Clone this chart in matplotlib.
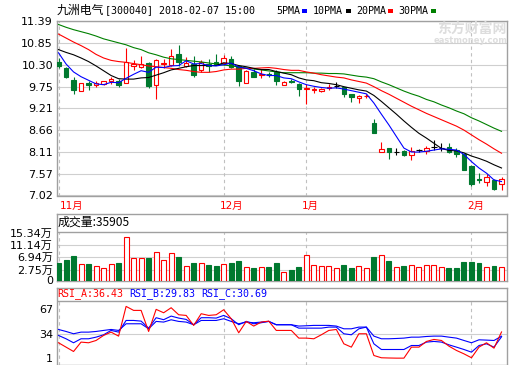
import matplotlib
matplotlib.use('Agg')
import matplotlib.pyplot as plt
from matplotlib.patches import Rectangle
import numpy as np

# ---------------- data ----------------
opens = [10.38, 10.21, 9.92, 9.64, 9.84, 9.78, 9.82, 9.88, 9.90, 9.85,
         10.28, 10.24, 10.34, 9.79, 10.32, 10.30, 10.58, 10.27, 10.32, 10.16,
         10.32, 10.37, 10.34, 10.45, 10.26, 9.84, 10.13, 10.04, 10.08, 10.13,
         9.80, 9.90, 9.82, 9.69, 9.66, 9.63, 9.72, 9.77, 9.73, 9.56,
         9.46, 9.51, 8.83, 8.11, 8.20, 8.11, 8.14, 8.03, 8.15, 8.13,
         8.24, 8.20, 8.24, 8.17, 8.05, 7.75, 7.44, 7.36, 7.40, 7.32]
highs = [10.47, 10.25, 10.00, 9.85, 9.88, 9.90, 9.90, 9.99, 9.95, 10.72,
         10.42, 10.53, 10.36, 10.45, 10.44, 10.70, 10.79, 10.49, 10.51, 10.43,
         10.44, 10.58, 10.55, 10.53, 10.30, 10.16, 10.19, 10.19, 10.13, 10.17,
         9.88, 9.93, 9.84, 9.81, 9.74, 9.72, 9.81, 9.86, 9.74, 9.57,
         9.54, 9.57, 8.93, 8.35, 8.21, 8.20, 8.17, 8.24, 8.19, 8.26,
         8.42, 8.34, 8.34, 8.20, 8.09, 7.78, 7.58, 7.55, 7.44, 7.48]
lows = [10.22, 9.96, 9.57, 9.63, 9.67, 9.74, 9.80, 9.81, 9.75, 9.84,
        10.17, 10.23, 9.72, 9.43, 10.23, 10.26, 10.27, 10.25, 9.99, 10.13,
        10.13, 10.30, 10.30, 10.21, 9.77, 9.83, 9.99, 9.96, 10.00, 9.79,
        9.78, 9.85, 9.52, 9.31, 9.59, 9.61, 9.66, 9.71, 9.48, 9.37,
        9.33, 9.46, 8.60, 8.10, 7.93, 8.03, 8.00, 7.92, 8.12, 8.07,
        8.17, 8.14, 8.09, 7.99, 7.65, 7.27, 7.33, 7.25, 7.15, 7.16]
closes = [10.26, 9.99, 9.67, 9.84, 9.78, 9.84, 9.88, 9.945, 9.78, 10.37,
          10.31, 10.32, 9.77, 10.42, 10.34, 10.52, 10.36, 10.34, 10.05, 10.37,
          10.28, 10.32, 10.47, 10.24, 9.88, 10.15, 10.00, 10.08, 10.04, 9.88,
          9.86, 9.87, 9.69, 9.71, 9.69, 9.70, 9.74, 9.77, 9.56, 9.48,
          9.52, 9.52, 8.60, 8.18, 8.11, 8.11, 8.03, 8.14, 8.15, 8.22,
          8.24, 8.20, 8.11, 8.05, 7.67, 7.30, 7.42, 7.48, 7.19, 7.44]

ma5 = [10.60, 10.32, 10.12, 10.00, 9.91, 9.82, 9.80, 9.86, 9.85, 9.96,
       10.06, 10.15, 10.11, 10.24, 10.23, 10.27, 10.28, 10.40, 10.32, 10.33,
       10.28, 10.27, 10.30, 10.34, 10.24, 10.21, 10.15, 10.07, 10.03, 10.03,
       9.97, 9.95, 9.87, 9.80, 9.76, 9.73, 9.71, 9.72, 9.69, 9.65,
       9.61, 9.57, 9.34, 9.06, 8.79, 8.50, 8.21, 8.11, 8.11, 8.13,
       8.16, 8.19, 8.18, 8.16, 8.05, 7.87, 7.71, 7.58, 7.41, 7.37]
ma10 = [10.68, 10.61, 10.55, 10.47, 10.38, 10.27, 10.15, 10.03, 9.95, 9.94,
        9.94, 9.97, 9.98, 10.04, 10.10, 10.17, 10.21, 10.25, 10.28, 10.28,
        10.28, 10.28, 10.35, 10.33, 10.28, 10.25, 10.21, 10.18, 10.18, 10.13,
        10.09, 10.05, 9.97, 9.92, 9.90, 9.85, 9.83, 9.80, 9.75, 9.71,
        9.67, 9.64, 9.53, 9.38, 9.22, 9.06, 8.89, 8.73, 8.58, 8.46,
        8.33, 8.20, 8.15, 8.14, 8.09, 8.01, 7.95, 7.88, 7.79, 7.71]
ma20 = [11.07, 10.97, 10.87, 10.78, 10.68, 10.56, 10.47, 10.41, 10.38, 10.36,
        10.33, 10.30, 10.27, 10.25, 10.23, 10.21, 10.18, 10.16, 10.13, 10.11,
        10.11, 10.13, 10.17, 10.19, 10.19, 10.21, 10.21, 10.22, 10.23, 10.21,
        10.18, 10.16, 10.16, 10.12, 10.09, 10.05, 10.02, 9.99, 9.97, 9.92,
        9.88, 9.84, 9.75, 9.65, 9.56, 9.46, 9.36, 9.26, 9.17, 9.08,
        9.00, 8.92, 8.84, 8.76, 8.66, 8.54, 8.42, 8.31, 8.19, 8.08]
ma30 = [11.31, 11.24, 11.18, 11.13, 11.08, 11.02, 10.95, 10.90, 10.85, 10.80,
        10.73, 10.68, 10.60, 10.55, 10.49, 10.45, 10.43, 10.41, 10.39, 10.37,
        10.345, 10.32, 10.295, 10.27, 10.245, 10.22, 10.195, 10.17, 10.145, 10.12,
        10.10, 10.10, 10.10, 10.10, 10.09, 10.09, 10.08, 10.08, 10.07, 10.04,
        10.01, 9.99, 9.95, 9.87, 9.80, 9.72, 9.64, 9.57, 9.51, 9.43,
        9.37, 9.29, 9.22, 9.14, 9.07, 8.97, 8.89, 8.80, 8.71, 8.63]

volumes_wan = [4.97, 5.89, 7.25, 4.52, 4.52, 4.08, 3.16, 4.76, 4.86, 13.63,
               6.57, 6.57, 6.57, 8.86, 6.13, 8.52, 6.91, 4.08, 4.86, 4.86,
               4.18, 3.84, 4.76, 4.86, 5.55, 3.50, 3.26, 3.50, 3.50, 4.86,
               2.03, 2.47, 3.50, 7.83, 4.42, 3.84, 3.84, 3.16, 4.18, 3.16,
               3.84, 3.16, 6.91, 7.59, 5.55, 3.50, 3.84, 4.42, 3.50, 4.42,
               4.42, 3.50, 3.16, 3.16, 5.20, 5.20, 4.86, 3.50, 3.84, 3.59]

rsi_a = [21.8, 15.9, 10.0, 22.7, 21.8, 24.9, 31.7, 36.2, 30.8, 71.0,
         65.6, 65.6, 37.1, 67.0, 62.4, 69.2, 59.7, 58.8, 45.3, 61.1,
         58.8, 59.7, 66.5, 54.3, 35.3, 50.7, 44.4, 49.8, 51.1, 38.5,
         38.5, 38.5, 28.1, 28.1, 27.2, 32.6, 38.5, 39.8, 20.4, 15.9,
         34.0, 34.0, 4.6, 1.5, 1.2, 1.0, 1.0, 15.9, 15.9, 23.6,
         26.3, 24.9, 17.2, 11.4, 6.8, 1.5, 15.9, 21.8, 14.5, 36.43]
rsi_b = [31.7, 27.2, 21.8, 27.2, 27.2, 29.4, 32.6, 38.5, 36.2, 52.0,
         52.0, 51.1, 41.6, 55.7, 53.0, 57.9, 55.2, 53.4, 46.2, 55.7,
         55.7, 55.2, 58.8, 54.3, 46.2, 50.7, 47.5, 48.9, 50.7, 46.2,
         46.2, 46.2, 41.6, 41.6, 41.6, 41.6, 43.0, 43.0, 34.0, 32.6,
         40.7, 43.0, 20.4, 12.7, 12.7, 12.7, 12.7, 18.1, 18.1, 22.7,
         23.6, 22.7, 19.0, 15.9, 12.7, 9.1, 18.1, 20.4, 15.9, 29.83]
rsi_c = [39.8, 37.1, 34.0, 36.2, 36.2, 37.1, 38.5, 39.8, 38.5, 47.5,
         47.5, 47.5, 40.7, 50.7, 49.8, 52.9, 50.7, 49.8, 46.2, 52.0,
         52.0, 52.0, 54.3, 50.7, 47.5, 49.8, 48.9, 49.8, 50.7, 46.2,
         46.2, 46.2, 44.4, 44.8, 45.3, 45.3, 45.3, 44.4, 40.7, 40.7,
         43.0, 43.0, 30.8, 27.2, 27.2, 27.6, 28.1, 29.4, 29.4, 30.3,
         30.8, 30.8, 29.4, 28.1, 24.9, 21.8, 25.8, 25.4, 24.9, 30.69]

price_ticks = [7.02, 7.57, 8.11, 8.66, 9.21, 9.75, 10.30, 10.85, 11.39]
price_tick_labels = ['7.02', '7.57', '8.11', '8.66', '9.21', '9.75', '10.30', '10.85', '11.39']
vol_ticks = [2.75, 6.94, 11.14, 15.34]
vol_tick_labels = ['2.75万', '6.94万', '11.14万', '15.34万']
rsi_ticks = [1, 34, 67]
rsi_tick_labels = ['1', '34', '67']
month_index = [0, 22, 33, 55]
month_labels = ['11月', '12月', '1月', '2月']

title_name = '九洲电气'
title_code = '[300040] 2018-02-07 15:00'
ma_names = ['5PMA', '10PMA', '20PMA', '30PMA']
vol_title = '成交量:35905'
rsi_names = ['RSI_A:36.43', 'RSI_B:29.83', 'RSI_C:30.69']

# ---------------- style ----------------
W, H = 520, 365
RED = '#ff0000'
GRN = '#00792f'
MA_COLORS = ['#0000ff', '#000000', '#ff0000', '#008000']
BORDER = '#a0a0a0'
GRID = '#cfcfcf'
SANS = ['DejaVu Sans', 'Noto Sans CJK SC']
MONO = ['DejaVu Sans Mono', 'Noto Sans CJK SC']
CJK = ['Noto Sans CJK SC', 'DejaVu Sans']

fig = plt.figure(figsize=(W / 100, H / 100), dpi=100)
fig.patch.set_facecolor('white')


def rect(x0, y0, x1, y1):
    return [x0 / W, 1 - y1 / H, (x1 - x0) / W, (y1 - y0) / H]


def fx(px):
    return px / W


def fy(py):
    return 1 - py / H


ax_p = fig.add_axes(rect(56.5, 21.3, 507, 195.5))
ax_v = fig.add_axes(rect(56.5, 214, 507, 280.5))
ax_r = fig.add_axes(rect(56.5, 288, 507, 364.5))

n = len(closes)
x = np.arange(n)
XL = (-0.27, 59.73)

for ax in (ax_p, ax_v, ax_r):
    ax.set_xlim(*XL)
    ax.set_xticks([])
    for s in ax.spines.values():
        s.set_color(BORDER)
        s.set_linewidth(1.0)
    ax.tick_params(axis='y', length=0, pad=2.5, labelsize=8, colors='black')

# ---------- price panel ----------
ax_p.set_ylim(7.02, 11.39)
ax_p.set_yticks(price_ticks)
ax_p.set_yticklabels(price_tick_labels, fontfamily=SANS)
for t in price_ticks:
    ax_p.axhline(t, color=GRID, lw=0.8, zorder=0)
for mi in month_index:
    ax_p.axvline(mi, color='#c0c0c0', lw=0.8, ls=(0, (3, 3)), zorder=0)

for i in range(n):
    o, h, l, c = opens[i], highs[i], lows[i], closes[i]
    if c > o:
        col, face = RED, 'white'
    elif c < o:
        col, face = GRN, GRN
    else:
        col, face = 'black', 'black'
    ax_p.vlines(i, l, h, color=col, lw=0.8, zorder=3)
    if c == o:
        ax_p.hlines(o, i - 0.36, i + 0.36, color='black', lw=0.8, zorder=4)
    else:
        ax_p.bar(i, abs(c - o), bottom=min(o, c), width=0.6, facecolor=face,
                 edgecolor=col, lw=0.8, zorder=4)

for ma, mc in zip([ma30, ma20, ma10, ma5], MA_COLORS[::-1]):
    ax_p.plot(x, ma, color=mc, lw=0.8, zorder=5)

# ---------- volume panel ----------
VOL_FLOOR = -0.94
ax_v.set_ylim(VOL_FLOOR, 21.59)
ax_v.set_yticks([VOL_FLOOR] + vol_ticks)
ax_v.set_yticklabels(['0'] + vol_tick_labels, fontfamily=SANS)
for t in vol_ticks[:-1]:
    ax_v.axhline(t, color=GRID, lw=0.8, zorder=0)
ax_v.axhline(vol_ticks[-1], color=BORDER, lw=1.0, zorder=1)
for mi in month_index:
    ax_v.vlines(mi, VOL_FLOOR, vol_ticks[-1], color='#c0c0c0', lw=0.8,
                linestyles=(0, (3, 3)), zorder=0)
vols = np.array(volumes_wan)
for i in range(n):
    up = closes[i] >= opens[i]
    ax_v.bar(i, vols[i] - VOL_FLOOR, bottom=VOL_FLOOR, width=0.66,
             facecolor='white' if up else GRN, edgecolor=RED if up else GRN,
             lw=0.8, zorder=3)

# ---------- RSI panel ----------
RSI_TOP = 95.9
RSI_HDR = 77.8
ax_r.set_ylim(-7.6, RSI_TOP)
ax_r.set_yticks(rsi_ticks)
ax_r.set_yticklabels(rsi_tick_labels, fontfamily=SANS)
ax_r.axhline(34, color=GRID, lw=0.8, zorder=0)
ax_r.axhline(RSI_HDR, color=BORDER, lw=1.0, zorder=1)
for mi in month_index:
    ax_r.vlines(mi, -7.6, RSI_HDR, color='#c0c0c0', lw=0.8,
                linestyles=(0, (3, 3)), zorder=0)
ax_r.plot(x, rsi_c, color='#0000ff', lw=0.8, zorder=3)
ax_r.plot(x, rsi_b, color='#0000ff', lw=0.8, zorder=3)
ax_r.plot(x, rsi_a, color='#ff0000', lw=0.8, zorder=4)

# ---------- texts ----------
fig.text(fx(57), fy(10.5), title_name, fontsize=8.6, family=CJK, va='center', ha='left')
fig.text(fx(105), fy(10.5), title_code, fontsize=7.2, family=MONO, va='center', ha='left')

leg_x = [276, 313, 356, 398]
sq_x = [302, 346, 388, 431]
for name, lx, sx, mc in zip(ma_names, leg_x, sq_x, MA_COLORS):
    fig.text(fx(lx), fy(10.5), name, fontsize=7.2, family=MONO, va='center', ha='left')
    fig.patches.append(Rectangle((fx(sx), fy(12.5)), 5 / W, 3.5 / H,
                                 transform=fig.transFigure, facecolor=mc,
                                 edgecolor='none'))

# watermark
fig.text(fx(472), fy(28.5), '东方财富网', fontsize=10, family=CJK, weight='bold',
         color='#dddddd', va='center', ha='center', zorder=0)
fig.text(fx(507), fy(40.5), 'eastmoney.com', fontsize=6, family=SANS, weight='bold',
         color='#dddddd', va='center', ha='right', zorder=0)

# month labels
for mi, lab in zip(month_index, month_labels):
    px = 56.5 + (mi - XL[0]) * 450.5 / (XL[1] - XL[0])
    if mi == 0:
        px = px + 1.5
    else:
        px = px - 4
    fig.text(fx(px), fy(206), lab, fontsize=7.5, family=SANS, color=RED,
             va='center', ha='left')

fig.text(fx(58), fy(222.5), vol_title, fontsize=8.6, family=CJK, va='center', ha='left')

rsi_x = [57, 129, 201]
rsi_cols = [RED, '#0000ff', '#0000ff']
for name, rx, rc in zip(rsi_names, rsi_x, rsi_cols):
    fig.text(fx(rx), fy(293.5), name, fontsize=7.2, family=MONO, color=rc,
             va='center', ha='left')

fig.savefig('out.png', dpi=100, facecolor='white')
